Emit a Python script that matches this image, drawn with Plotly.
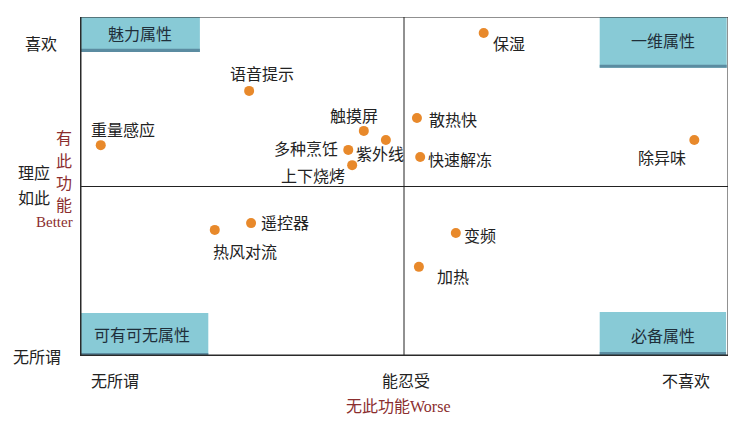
import plotly.graph_objects as go

# ---- data ----
features = ["保湿", "语音提示", "重量感应", "触摸屏", "紫外线", "多种烹饪", "上下烧烤",
            "散热快", "快速解冻", "除异味", "热风对流", "遥控器", "变频", "加热"]
worse = [0.623, 0.261, 0.032, 0.438, 0.472, 0.414, 0.420,
         0.520, 0.525, 0.948, 0.208, 0.264, 0.580, 0.523]
better = [0.953, 0.782, 0.622, 0.664, 0.637, 0.608, 0.563,
          0.702, 0.587, 0.637, 0.372, 0.392, 0.363, 0.263]
quadrant_names = ["魅力属性", "一维属性", "可有可无属性", "必备属性"]
y_tick_labels = ["喜欢", "理应", "如此", "无所谓"]
x_tick_labels = ["无所谓", "能忍受", "不喜欢"]

# label offsets in pixels (style, not data)
label_offsets = [(25, -10), (13, 18), (22, 16), (-10, 16), (-6, -13), (-42, 2), (-39, -10),
                 (36, -1), (40, -2), (-32, -17), (30, -21), (34, 1), (24, -2), (34, -9)]

FONT = "Noto Sans CJK SC"
TEAL = "#88CAD6"
TEAL_DARK = "#5B8CA1"
RED = "#8B2E2E"

fig = go.Figure()
fig.add_trace(go.Scatter(
    x=worse, y=better, mode="markers",
    marker=dict(size=10, color="#E8892B"),
    text=features, hoverinfo="text", showlegend=False, cliponaxis=False,
))

shapes = []
boxes = [
    (0.0, 0.185, 0.897, 1.0),
    (0.802, 0.998, 0.850, 1.0),
    (0.0, 0.198, 0.0, 0.127),
    (0.802, 0.997, 0.003, 0.130),
]
for (x0, x1, y0, y1) in boxes:
    shapes.append(dict(type="rect", xref="x", yref="y", x0=x0, x1=x1, y0=y0, y1=y1,
                       fillcolor=TEAL, line=dict(width=0), layer="below"))
    shapes.append(dict(type="rect", xref="x", yref="y", x0=x0, x1=x1, y0=y0, y1=y0 + 0.009,
                       fillcolor=TEAL_DARK, line=dict(width=0), layer="below"))

# mid lines
shapes.append(dict(type="line", xref="x", yref="y", x0=0.5, x1=0.5, y0=0, y1=1,
                   line=dict(color="#222", width=1)))
shapes.append(dict(type="line", xref="x", yref="y", x0=0, x1=1, y0=0.5, y1=0.5,
                   line=dict(color="#222", width=1)))
# frame
shapes.append(dict(type="line", xref="x", yref="y", x0=0, x1=1, y0=1, y1=1,
                   line=dict(color="#222", width=1)))
shapes.append(dict(type="line", xref="x", yref="y", x0=1, x1=1, y0=0, y1=1,
                   line=dict(color="#222", width=1)))
shapes.append(dict(type="line", xref="x", yref="y", x0=0, x1=0, y0=0, y1=1,
                   line=dict(color="#2a2a2a", width=3)))
shapes.append(dict(type="line", xref="x", yref="y", x0=0, x1=1, y0=0, y1=0,
                   line=dict(color="#2a2a2a", width=3)))

ann = []


def add_text(x, y, text, ref="paper", size=16, color="#222", family=FONT, dx=0, dy=0):
    ann.append(dict(x=x, y=y, xref="x" if ref == "data" else "paper",
                    yref="y" if ref == "data" else "paper",
                    text=text, showarrow=False, xanchor="center", yanchor="middle",
                    xshift=dx, yshift=dy, font=dict(family=family, size=size, color=color)))


for name, xv, yv, (dx, dy) in zip(features, worse, better, label_offsets):
    add_text(xv, yv, name, ref="data", dx=dx, dy=dy)

quad_text_pos = [(0.093, 0.953), (0.900, 0.932), (0.096, 0.065), (0.900, 0.062)]
for name, (qx, qy) in zip(quadrant_names, quad_text_pos):
    add_text(qx, qy, name, ref="data", color="#1f2f3a")

# y side labels
y_pos = [(-0.060, 0.923), (-0.071, 0.543), (-0.071, 0.469), (-0.066, 0.0)]
for t, (px, py) in zip(y_tick_labels, y_pos):
    add_text(px, py, t)
# x side labels
x_pos = [(0.054, -0.071), (0.503, -0.071), (0.935, -0.071)]
for t, (px, py) in zip(x_tick_labels, x_pos):
    add_text(px, py, t)

# red axis titles
for ch, py in zip("有此功能", [0.646, 0.578, 0.513, 0.448]):
    add_text(-0.025, py, ch, color=RED)
add_text(-0.039, 0.395, "Better", size=15, color=RED, family="Liberation Serif")
add_text(0.492, -0.145, "无此功能<span style='font-family:Liberation Serif'>Worse</span>", color=RED)

fig.update_layout(
    width=741, height=416,
    margin=dict(l=72, r=21, t=9, b=68),
    paper_bgcolor="white", plot_bgcolor="white",
    xaxis=dict(range=[0, 1], showgrid=False, zeroline=False, showticklabels=False,
               showline=False, fixedrange=True),
    yaxis=dict(range=[0, 1], showgrid=False, zeroline=False, showticklabels=False,
               showline=False, fixedrange=True),
    shapes=shapes, annotations=ann,
    font=dict(family=FONT),
)

fig.write_html("out.html")
